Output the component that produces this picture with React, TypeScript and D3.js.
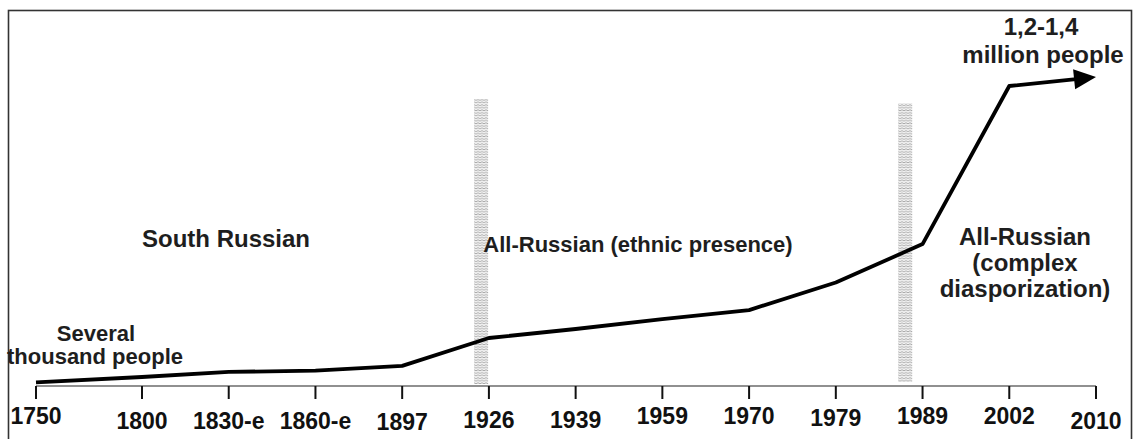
import React from "react";
import * as d3 from "d3";

// ---- data ----
const categories = ["1750", "1800", "1830-e", "1860-e", "1897", "1926", "1939", "1959", "1970", "1979", "1989", "2002", "2010"];
// relative size index of the diaspora (no numeric axis in the original)
const values = [1.2, 3, 4.7, 5.1, 6.7, 16, 19, 22.3, 25.3, 34.5, 47.3, 100, 103];
const periodLabels = ["South Russian", "All-Russian (ethnic presence)", "All-Russian", "(complex", "diasporization)"];
const startLabel = ["Several", "thousand people"];
const endLabel = ["1,2-1,4", "million people"];
// period boundaries: between two categories, at fraction t
const boundaries = [
  { from: "1897", to: "1926", t: 0.91 },
  { from: "1979", to: "1989", t: 0.8 },
];

// ---- layout ----
const W = 1136;
const H = 439;
const axisY = 386;
const axisLeft = 36;
const tickLabelBaseline = [424, 429, 429, 429, 430, 428, 428, 424, 424, 426, 424, 424, 429];
const textFont = "'Liberation Sans', Arial, sans-serif";
const narrowFont = "'Liberation Sans Narrow', 'Arial Narrow', 'Liberation Sans', sans-serif";

export default function App() {
  const xp = d3.scalePoint<string>().domain(categories.slice(1)).range([142, 1096]);
  const x = (c: string) => (c === categories[0] ? axisLeft : (xp(c) as number));
  const y = d3.scaleLinear().domain([0, 100]).range([axisY, 86]);

  const pts: [number, number][] = categories.map((c, i) => [x(c), y(values[i])]);
  const n = pts.length;
  const [tx, ty] = pts[n - 1];
  const [px, py] = pts[n - 2];
  const len = Math.hypot(tx - px, ty - py);
  const headLen = 22;
  const ux = (tx - px) / len;
  const uy = (ty - py) / len;
  const linePts = pts.slice(0, n - 1).concat([[tx - ux * (headLen - 2), ty - uy * (headLen - 2)]]);
  const line = d3.line<[number, number]>().x((d) => d[0]).y((d) => d[1]);
  const perpX = -uy;
  const perpY = ux;
  const hw = 10;
  const bx = tx - ux * headLen;
  const by = ty - uy * headLen;
  const head = `M${tx},${ty}L${bx + perpX * hw},${by + perpY * hw}L${bx - perpX * hw},${by - perpY * hw}Z`;

  return (
    <svg width={W} height={H} style={{ position: "absolute", left: 0, top: 0, background: "#fff" }}>
      <defs>
        <pattern id="hatch" width="4" height="2.6" patternUnits="userSpaceOnUse">
          <rect width="4" height="2.6" fill="#f2f2f2" />
          <path d="M0,1.6 L2,0.6 L4,1.6" fill="none" stroke="#9a9a9a" strokeWidth="0.8" />
        </pattern>
      </defs>
      <rect x={8.5} y={10.5} width={1123} height={460} fill="none" stroke="#333" strokeWidth={1.6} />

      {boundaries.map((b, i) => {
        const cx = x(b.from) + (x(b.to) - x(b.from)) * b.t;
        const top = i === 0 ? 99 : 103;
        const bot = i === 0 ? 384 : 382;
        return <rect key={i} x={cx - 7} y={top} width={14} height={bot - top} fill="url(#hatch)" />;
      })}

      <line x1={axisLeft} x2={x(categories[n - 1])} y1={axisY} y2={axisY} stroke="#222" strokeWidth={1.2} />
      {categories.map((c, i) => (
        <g key={c}>
          <line x1={x(c)} x2={x(c)} y1={axisY} y2={axisY + 13} stroke="#111" strokeWidth={2} />
          <text x={x(c)} y={tickLabelBaseline[i]} textAnchor="middle" fontFamily={narrowFont} fontWeight="bold" fontSize={23} fill="#111">
            {c}
          </text>
        </g>
      ))}

      <path d={line(linePts) as string} fill="none" stroke="#000" strokeWidth={3.8} strokeLinejoin="round" />
      <path d={head} fill="#000" />

      <g fontFamily={textFont} fontWeight="bold" fill="#1e1e1e" textAnchor="middle">
        <text x={96} y={341} fontSize={22}>{startLabel[0]}</text>
        <text x={95} y={364} fontSize={22}>{startLabel[1]}</text>
        <text x={226} y={247} fontSize={24}>{periodLabels[0]}</text>
        <text x={638} y={252} fontSize={22}>{periodLabels[1]}</text>
        <text x={1025} y={245} fontSize={24}>{periodLabels[2]}</text>
        <text x={1025} y={271} fontSize={24}>{periodLabels[3]}</text>
        <text x={1025} y={297} fontSize={24}>{periodLabels[4]}</text>
        <text x={1041} y={35} fontSize={24}>{endLabel[0]}</text>
        <text x={1043} y={63} fontSize={24}>{endLabel[1]}</text>
      </g>
    </svg>
  );
}
